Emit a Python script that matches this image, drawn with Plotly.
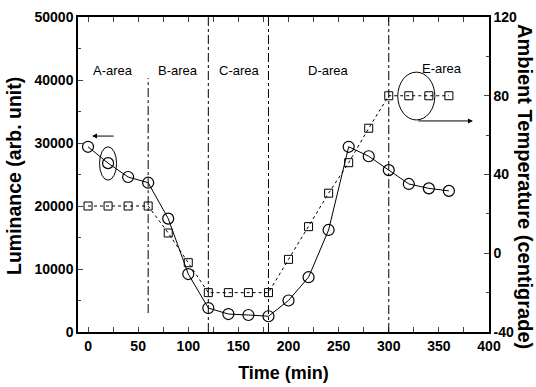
import plotly.graph_objects as go

# ---- data ----
time_min = [0, 20, 40, 60, 80, 100, 120, 140, 160, 180, 200, 220, 240, 260, 280, 300, 320, 340, 360]
luminance = [29400, 26800, 24600, 23700, 18000, 9200, 3800, 2850, 2700, 2500,
             5000, 8700, 16200, 29400, 27900, 25700, 23500, 22800, 22400]
temperature = [24, 24, 24, 24, 10.3, -4.8, -20, -20, -20, -20,
               -3.1, 13.5, 30.5, 46, 63.5, 80, 80, 80, 80]

area_bounds = [60, 120, 180, 300]
area_labels = ["A-area", "B-area", "C-area", "D-area", "E-area"]
area_label_x = [25, 90, 151, 240, 353]

x_ticks = [0, 50, 100, 150, 200, 250, 300, 350, 400]
lum_ticks = [0, 10000, 20000, 30000, 40000, 50000]
temp_ticks = [-40, 0, 40, 80, 120]

FONT = "Liberation Sans, Arial, sans-serif"
TF = dict(family=FONT, size=14, color="black")

fig = go.Figure()

fig.add_trace(go.Scatter(
    x=time_min, y=luminance, mode="lines+markers", name="Luminance",
    line=dict(color="black", width=1),
    marker=dict(symbol="circle-open", size=11, color="black", line=dict(width=1.2)),
    yaxis="y", showlegend=False))

fig.add_trace(go.Scatter(
    x=time_min, y=temperature, mode="lines+markers", name="Ambient Temperature",
    line=dict(color="black", width=1, dash="dot"),
    marker=dict(symbol="square-open", size=8, color="black", line=dict(width=1)),
    yaxis="y2", showlegend=False))

shapes = []
for i, b in enumerate(area_bounds):
    if i == 0:
        y0, y1 = 3000, 40300
    else:
        y0, y1 = 0, 50000
    shapes.append(dict(type="line", xref="x", yref="y", x0=b, x1=b, y0=y0, y1=y1,
                       line=dict(color="black", width=1, dash="dashdot")))

# ellipses highlighting the series
shapes.append(dict(type="circle", xref="x", yref="y", x0=11.5, x1=28.5, y0=24100, y1=29400,
                   line=dict(color="black", width=1)))
shapes.append(dict(type="circle", xref="x", yref="y2", x0=309, x1=346, y0=67.7, y1=92,
                   line=dict(color="black", width=1)))

annotations = []
for lbl, xx in zip(area_labels, area_label_x):
    annotations.append(dict(x=xx, y=41500 if lbl != "E-area" else 41900, xref="x", yref="y",
                            text=lbl, showarrow=False,
                            font=dict(family=FONT, size=13, color="black")))

# arrows
annotations.append(dict(x=4, y=31100, ax=27, ay=31100, xref="x", yref="y", axref="x", ayref="y",
                        text="", showarrow=True, arrowhead=2, arrowsize=1, arrowwidth=1,
                        arrowcolor="black"))
annotations.append(dict(x=384, y=67.2, ax=328, ay=67.2, xref="x", yref="y2", axref="x", ayref="y2",
                        text="", showarrow=True, arrowhead=2, arrowsize=1, arrowwidth=1,
                        arrowcolor="black"))

# axis titles for the y axes
annotations.append(dict(x=0.0, y=0.5, xref="paper", yref="paper", xanchor="center", yanchor="middle",
                        xshift=-64, yshift=-1.5,
                        text="<b>Luminance (arb. unit)</b>", showarrow=False, textangle=-90,
                        font=dict(family=FONT, size=19.5, color="black")))
annotations.append(dict(x=1.0, y=0.5, xref="paper", yref="paper", xanchor="center", yanchor="middle",
                        xshift=36, yshift=-11.5,
                        text="<b>Ambient Temperature (centigrade)</b>", showarrow=False, textangle=90,
                        font=dict(family=FONT, size=20, color="black")))

fig.update_layout(
    width=536, height=387,
    margin=dict(l=78, r=47, t=17, b=55),
    paper_bgcolor="white", plot_bgcolor="white",
    font=dict(family=FONT, color="black"),
    shapes=shapes,
    annotations=annotations,
    xaxis=dict(range=[-10, 400], tickvals=x_ticks, ticktext=[f"<b>{v}</b>" for v in x_ticks],
               ticks="inside", ticklen=5,
               minor=dict(ticks="inside", ticklen=3, dtick=25, tick0=0),
               showline=True, linecolor="black", linewidth=1.5, mirror="allticks",
               showgrid=False, zeroline=False, automargin=False,
               tickfont=TF,
               title=dict(text="<b>Time (min)</b>", font=dict(family=FONT, size=18, color="black"),
                          standoff=14)),
    yaxis=dict(range=[0, 50000], tickvals=lum_ticks, ticktext=[f"<b>{v}</b>" for v in lum_ticks],
               ticks="inside", ticklen=5,
               minor=dict(ticks="inside", ticklen=3, dtick=5000, tick0=0),
               showline=True, linecolor="black", linewidth=1.5,
               showgrid=False, zeroline=False, automargin=False,
               tickfont=TF),
    yaxis2=dict(range=[-40, 120], tickvals=temp_ticks, ticktext=[f"<b>{v}</b>" for v in temp_ticks],
                overlaying="y", side="right", ticks="inside", ticklen=5,
                minor=dict(ticks="inside", ticklen=3, dtick=20, tick0=0),
                showline=True, linecolor="black", linewidth=1.5,
                showgrid=False, zeroline=False, automargin=False,
                tickfont=TF),
)

fig.write_html("out.html", config={"displayModeBar": False},
               post_script="document.body.style.margin='0';")
